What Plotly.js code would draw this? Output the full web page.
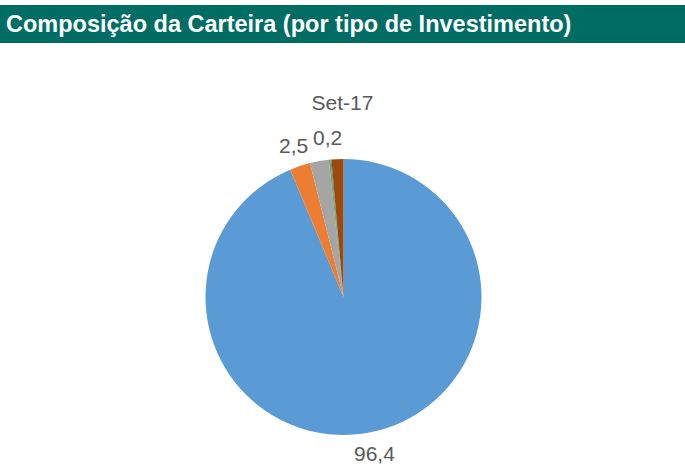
<!DOCTYPE html>
<html>
<head>
<meta charset="utf-8">
<script src="https://cdn.plot.ly/plotly-3.0.1.min.js"></script>
<style>html,body{margin:0;padding:0;background:#fff;}#chart{width:685px;height:466px;}</style>
</head>
<body>
<div id="chart"></div>
<script>
// Data (slice sizes from angles, labels as printed)
const categories = ["A", "B", "C", "D", "E", "F"];
const values = [93.7, 2.4, 2.2, 0.2, 0.1, 1.4];
const labelTexts = ["96,4", "2,5", "", "0,2", "", ""];
const colors = ["#5B9BD5", "#ED7D31", "#A5A5A5", "#70AD47", "#4472C4", "#9E480E"];
const chartTitle = "Set-17";
const headerText = "Composição da Carteira (por tipo de Investimento)";

const W = 685, H = 466;
const cx = 343.5, cy = 297, r = 138;
const labelR = r + 22;
const font = "Liberation Sans, Arial, sans-serif";

const trace = {
  type: "pie",
  labels: categories,
  values: values,
  textinfo: "none",
  sort: false,
  direction: "clockwise",
  rotation: 0,
  hoverinfo: "none",
  marker: {colors: colors, line: {width: 0}},
  domain: {x: [(cx - r) / W, (cx + r) / W], y: [(H - cy - r) / H, (H - cy + r) / H]},
  showlegend: false
};

// data labels placed at each slice's mid-angle (computed from the values)
const total = values.reduce((a, b) => a + b, 0);
const labelAnns = [];
let cum = 0;
values.forEach((v, i) => {
  const mid = (cum + v / 2) / total * 2 * Math.PI;
  cum += v;
  if (!labelTexts[i]) return;
  const px = cx + labelR * Math.sin(mid);
  const py = cy - labelR * Math.cos(mid);
  labelAnns.push({text: labelTexts[i], xref: "paper", yref: "paper", x: px / W, y: 1 - py / H,
    xanchor: "center", yanchor: "middle", showarrow: false,
    font: {family: font, size: 21, color: "#595959"}});
});

const layout = {
  width: W, height: H,
  margin: {l: 0, r: 0, t: 0, b: 0},
  paper_bgcolor: "#ffffff",
  showlegend: false,
  title: {text: chartTitle, x: 0.5, xanchor: "center", y: 1 - 103 / H, yanchor: "middle",
          font: {family: font, size: 21, color: "#595959"}},
  shapes: [{type: "rect", xref: "paper", yref: "paper", x0: 0, x1: 1, y0: 1 - 43 / H, y1: 1 - 5 / H,
            fillcolor: "#006D65", line: {width: 0}, layer: "below"}],
  annotations: [{text: "<b>" + headerText + "</b>", xref: "paper", yref: "paper",
                 x: 4 / W, xanchor: "left", y: 1 - 24 / H, yanchor: "middle", showarrow: false,
                 font: {family: font, size: 23.5, color: "#ffffff"}}].concat(labelAnns)
};

Plotly.newPlot("chart", [trace], layout, {displayModeBar: false, staticPlot: true});
</script>
</body>
</html>
